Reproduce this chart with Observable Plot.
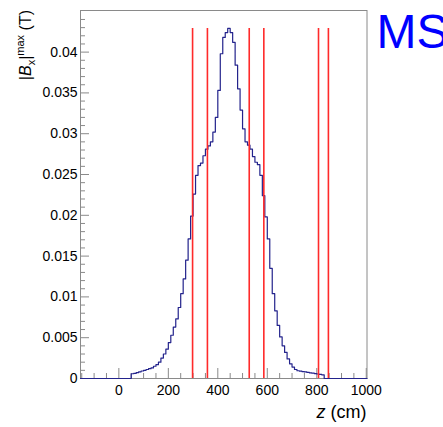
<!DOCTYPE html>
<html><head><meta charset="utf-8">
<script src="https://cdn.jsdelivr.net/npm/d3@7"></script>
<script src="https://cdn.jsdelivr.net/npm/@observablehq/plot@0.6"></script>
<style>
html,body{margin:0;padding:0;background:#fff;}
#chart{width:443px;height:427px;overflow:hidden;}
</style></head><body><div id="chart"></div>
<script>
// histogram: |Bx|max (T) in 10 cm bins starting at z = 50 cm
const binStart = 50;
const binWidth = 10;
const fieldValues = [
  0.00058, 0.00062, 0.00072, 0.00082, 0.00092, 0.001, 0.0011, 0.0012, 0.0013, 0.0015,
  0.0017, 0.002, 0.0025, 0.003, 0.0036, 0.0044, 0.0053, 0.0063, 0.0073, 0.0087,
  0.0104, 0.0122, 0.0145, 0.0171, 0.0199, 0.0226, 0.0249, 0.0261, 0.0264, 0.0273,
  0.0281, 0.0285, 0.029, 0.0302, 0.032, 0.0353, 0.0398, 0.0418, 0.0424, 0.0429,
  0.0424, 0.0412, 0.0384, 0.0355, 0.0329, 0.0306, 0.029, 0.0286, 0.0281, 0.0272,
  0.0265, 0.0262, 0.0249, 0.0224, 0.0198, 0.0171, 0.0135, 0.0104, 0.0083, 0.0065,
  0.0051, 0.004, 0.0032, 0.0024, 0.0018, 0.0014, 0.0011, 0.00095, 0.0009, 0.00085,
  0.0008, 0.00075, 0.0007, 0.00065, 0.0006, 0.00055, 0.0005, 0.00045
];
const zDomain = [-155, 1003];
const yDomain = [0, 0.0451];
const magnetEdges = [298, 358, 527, 586, 807, 847];
const xMajorTicks = [0, 200, 400, 600, 800, 1000];
const xMinorTicks = [-150, -100, -50, 50, 100, 150, 250, 300, 350, 450, 500, 550, 650, 700, 750, 850, 900, 950];
const yMajorTicks = [0, 0.005, 0.01, 0.015, 0.02, 0.025, 0.03, 0.035, 0.04];
const yMinorTicks = d3.range(1, 46).filter(i => i % 5 !== 0).map(i => i / 1000);

const W = 443, H = 427, mL = 80, mT = 10, mR = 76.5, mB = 49;
const plotW = W - mL - mR, plotH = H - mT - mB;
const tickColor = "#8a8a8a";

// step line points
const pts = [{z: zDomain[0], v: 0}];
fieldValues.forEach((v, i) => pts.push({z: binStart + i * binWidth, v}));
pts.push({z: binStart + fieldValues.length * binWidth, v: 0});
pts.push({z: zDomain[1], v: 0});
const peak = d3.max(fieldValues);

const chart = Plot.plot({
  width: W, height: H,
  marginLeft: mL, marginTop: mT, marginRight: mR, marginBottom: mB,
  style: {fontFamily: "'Liberation Sans', Arial, sans-serif", fontSize: "14px", background: "#fff", color: "#000", overflow: "hidden"},
  x: {domain: zDomain, axis: null},
  y: {domain: yDomain, axis: null},
  marks: [
    Plot.ruleX(xMinorTicks, {stroke: tickColor, insetTop: plotH - 5}),
    Plot.ruleX(xMajorTicks, {stroke: tickColor, insetTop: plotH - 10}),
    Plot.ruleY(yMinorTicks, {stroke: tickColor, insetRight: plotW - 5}),
    Plot.ruleY(yMajorTicks, {stroke: tickColor, insetRight: plotW - 9}),
    Plot.frame({stroke: tickColor}),
    Plot.axisX({ticks: xMajorTicks, tickSize: 0, tickPadding: 7, label: null, tickFormat: d => String(d)}),
    Plot.axisY({ticks: yMajorTicks, tickSize: 0, tickPadding: 3, label: null, tickFormat: d => String(d)}),
    Plot.line(pts, {x: "z", y: "v", curve: "step-after", stroke: "#23238c", strokeWidth: 1.2}),
    Plot.ruleX(magnetEdges, {y1: 0, y2: peak, stroke: "#ff2a2a", strokeWidth: 1.6})
  ]
});
document.getElementById("chart").appendChild(chart);

const svg = d3.select(chart);
// y-axis title
const yt = svg.append("text")
  .attr("transform", `translate(31,${mT}) rotate(-90)`)
  .attr("text-anchor", "end")
  .attr("font-size", 16)
  .attr("fill", "#000");
yt.append("tspan").text("|");
yt.append("tspan").attr("font-style", "italic").text("B");
yt.append("tspan").attr("font-size", 11).attr("dy", 4).text("x");
yt.append("tspan").attr("dy", -4).text("|");
yt.append("tspan").attr("font-size", 11).attr("dy", -7).text("max");
yt.append("tspan").attr("dy", 7).text(" (T)");
// x-axis title
const xt = svg.append("text")
  .attr("x", W - mR).attr("y", 418)
  .attr("text-anchor", "end")
  .attr("font-size", 18)
  .attr("fill", "#000");
xt.append("tspan").attr("font-style", "italic").text("z");
xt.append("tspan").text(" (cm)");
// label (cut by the right edge, as in the reference)
svg.append("text")
  .attr("x", 376.5).attr("y", 48)
  .attr("text-anchor", "start")
  .attr("font-size", 48)
  .attr("fill", "#0000ff")
  .text("MS");
</script></body></html>
